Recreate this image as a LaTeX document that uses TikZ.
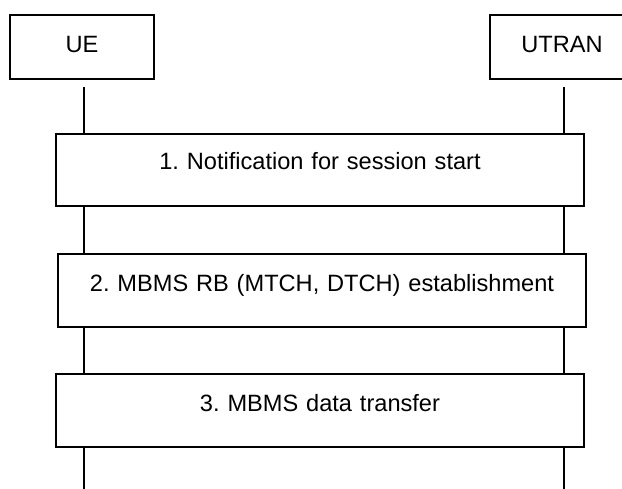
\documentclass[tikz,border=0pt]{standalone}
\usepackage{fontspec}
\setmainfont{Liberation Sans}
\frenchspacing
\begin{document}
\begin{tikzpicture}[x=1pt,y=-1pt,
  every node/.style={font=\fontsize{23.6}{28}\selectfont},
  ent/.style={draw,line width=1.5pt,inner sep=0pt,minimum width=144pt,text height=38pt,text depth=26pt},
  proc/.style={draw,line width=1.5pt,inner sep=0pt,text width=#1,align=center},
  life/.style={line width=1.5pt}]
\useasboundingbox (0,0) rectangle (622,489);
\clip (0,0) rectangle (622,489);
% entities (anchor base at baseline)
\node[ent,anchor=base] (ue) at (82,53) {UE};
\node[ent,anchor=base] (utran) at (562,53) {UTRAN};
% procedure boxes
\node[proc=528pt,text height=36pt,text depth=36pt,anchor=base] (b1) at (320,170) {1. Notification for session start};
\node[proc=528pt,text height=38pt,text depth=35pt,anchor=base] (b2) at (322,292) {2. MBMS RB (MTCH, DTCH) establishment};
\node[proc=528pt,text height=38pt,text depth=35pt,anchor=base] (b3) at (320,412) {3. MBMS data transfer};
% lifeline ends
\coordinate (ueTop) at (84,87);
\coordinate (ueBot) at (84,489);
\coordinate (utTop) at (564,87);
\coordinate (utBot) at (564,489);
% lifelines
\draw[life] (ueTop) -- (ueTop |- b1.north);
\draw[life] (ueTop |- b1.south) -- (ueTop |- b2.north);
\draw[life] (ueTop |- b2.south) -- (ueTop |- b3.north);
\draw[life] (ueTop |- b3.south) -- (ueBot);
\draw[life] (utTop) -- (utTop |- b1.north);
\draw[life] (utTop |- b1.south) -- (utTop |- b2.north);
\draw[life] (utTop |- b2.south) -- (utTop |- b3.north);
\draw[life] (utTop |- b3.south) -- (utBot);
\end{tikzpicture}
\end{document}
